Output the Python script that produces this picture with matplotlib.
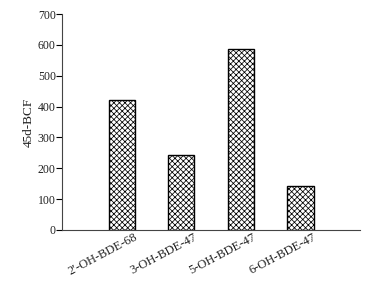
import matplotlib
matplotlib.use("Agg")
import matplotlib.pyplot as plt
from matplotlib.transforms import ScaledTranslation

compounds = ["2\u2032-OH-BDE-68", "3-OH-BDE-47", "5-OH-BDE-47", "6-OH-BDE-47"]
bcf_45d = [422, 243, 588, 142]
yticks = [0, 100, 200, 300, 400, 500, 600, 700]

plt.rcParams["font.family"] = ["Liberation Serif", "DejaVu Serif"]
plt.rcParams["hatch.color"] = "#999999"
plt.rcParams["hatch.linewidth"] = 0.55

fig = plt.figure(figsize=(3.72, 2.81), dpi=100)
ax = fig.add_axes([0.1667, 0.1815, 0.8013, 0.7685])

x = list(range(len(compounds)))
ax.bar(x, bcf_45d, width=0.44, color="white", edgecolor="black",
       linewidth=1.0, hatch="xxxxxx")

ax.set_xlim(-1, 4)
ax.set_ylim(0, 700)
ax.set_yticks(yticks)
ax.set_xticks(x)
ax.set_xticklabels([])

# rotated category labels, set a bit right of the bar centre like the original
off = ScaledTranslation(0.12, -0.01, fig.dpi_scale_trans)
for xi, name in zip(x, compounds):
    ax.text(xi, 0, name, transform=ax.get_xaxis_transform() + off,
            rotation=28, ha="right", va="top", rotation_mode="anchor",
            fontsize=9, color="#222222")

ax.tick_params(axis="y", labelsize=8.5, length=4, width=0.8, direction="out",
               pad=0.5, labelcolor="#222222")
ax.tick_params(axis="x", length=0)
ax.set_ylabel("45d-BCF", fontsize=9.5, labelpad=2, color="#222222")

ax.spines["top"].set_visible(False)
ax.spines["right"].set_visible(False)
ax.spines["left"].set_color("#444444")
ax.spines["bottom"].set_color("#444444")

fig.savefig("out.png", dpi=100)
